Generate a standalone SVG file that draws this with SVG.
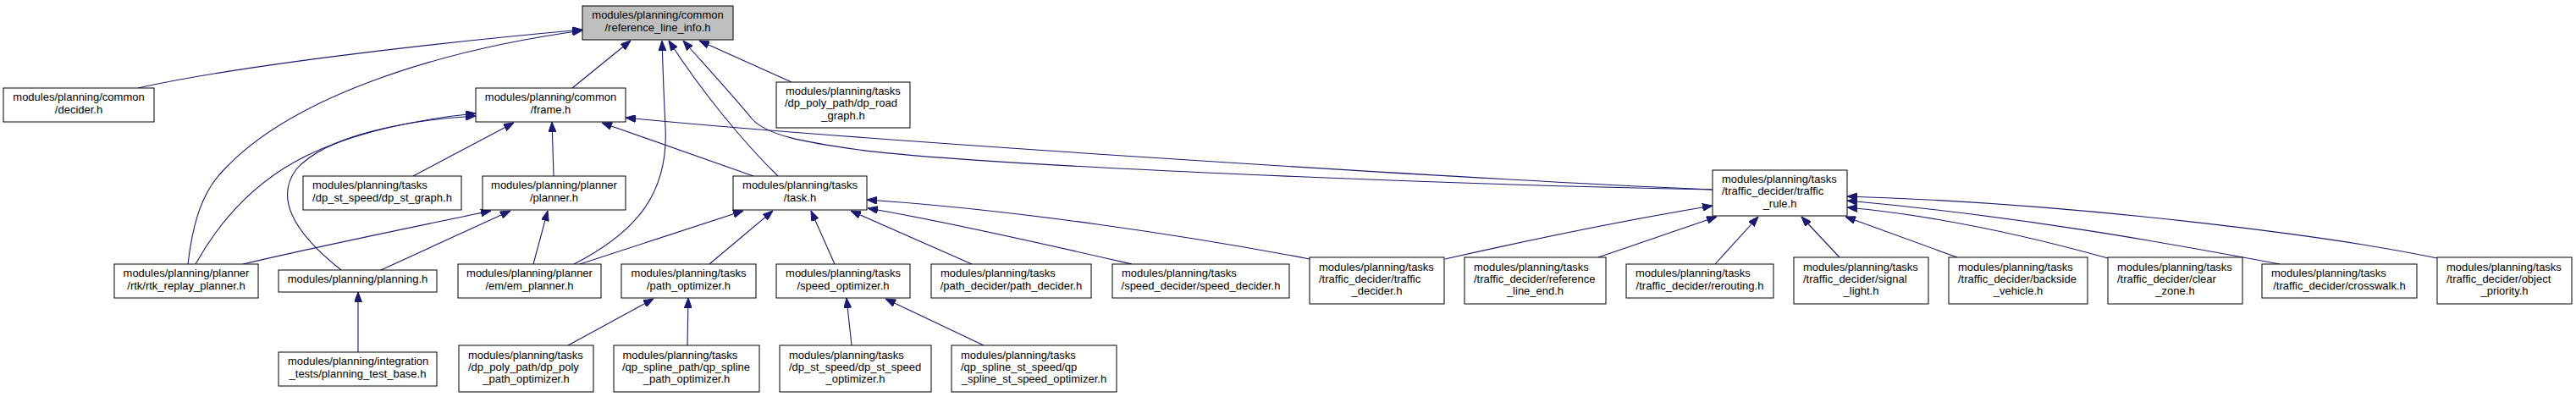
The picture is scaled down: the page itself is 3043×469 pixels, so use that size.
<svg xmlns="http://www.w3.org/2000/svg" width="3043" height="469" viewBox="0 0 3043 469">
<style>
.n rect{fill:#fff;stroke:#000;stroke-width:1}
.n text{font-family:"Liberation Sans",Arial,sans-serif;font-size:13px;fill:#000}
.m{text-anchor:middle}
.e path{fill:none;stroke:#191970;stroke-width:1.1;marker-end:url(#arr)}
</style>
<defs>
<marker id="arr" viewBox="0 0 12 9" refX="12" refY="4.5" markerWidth="12" markerHeight="9" markerUnits="userSpaceOnUse" orient="auto">
<path d="M0,0 L12,4.5 L0,9 z" fill="#191970" stroke="#191970" stroke-width="1"/>
</marker>
</defs>
<rect width="3043" height="469" fill="#fff"/>
<g class="e" id="edges">
<path d="M163,104 C280,78 500,52 688,35"/>
<path d="M222,312 C228,260 240,225 265,200 C340,120 500,62 688,36"/>
<path d="M231,312 C260,260 300,215 360,185 C420,155 500,140 562,134"/>
<path d="M403,319 C360,285 320,240 350,200 C385,160 480,142 562,137"/>
<path d="M488,208 L607,145"/>
<path d="M654,208 L652,144"/>
<path d="M890,208 L711,145"/>
<path d="M2023,224 C1700,210 1000,165 739,139"/>
<path d="M2023,224 C1700,218 1150,195 1015,177 C950,168 905,160 888,140 C870,118 840,85 807,48"/>
<path d="M676,104 L745,48"/>
<path d="M678,312 C750,275 790,230 786,150 C784,110 783,80 782,48"/>
<path d="M919,208 C880,170 830,110 790,48"/>
<path d="M935,97 L826,48"/>
<path d="M287,312 C380,290 480,270 580,249"/>
<path d="M450,319 L603,249"/>
<path d="M630,312 L647,249"/>
<path d="M423,416 L423,345"/>
<path d="M685,312 L878,249"/>
<path d="M838,312 L913,249"/>
<path d="M986,312 L958,249"/>
<path d="M1148,312 L1005,249"/>
<path d="M1337,312 C1250,292 1120,262 1025,246"/>
<path d="M1547,306 C1400,278 1200,248 1024,236"/>
<path d="M671,408 L772,353"/>
<path d="M812,408 L813,352"/>
<path d="M1006,408 L1000,352"/>
<path d="M1162,408 L1046,353"/>
<path d="M1707,306 C1800,285 1920,260 2023,243"/>
<path d="M1888,304 L2028,256"/>
<path d="M2026,312 L2077,256"/>
<path d="M2173,304 L2128,256"/>
<path d="M2312,304 L2180,256"/>
<path d="M2490,305 C2400,280 2290,255 2182,245"/>
<path d="M2693,312 C2550,285 2380,255 2182,237"/>
<path d="M2879,305 C2750,278 2450,240 2182,232"/>
</g>
<g class="n" id="n_ref"><rect x="688" y="7" width="178" height="40" style="fill:#bfbfbf"/><text class="m" x="777" y="22">modules/planning/common</text><text class="m" x="777" y="36.5">/reference_line_info.h</text></g>
<g class="n" id="n_decider"><rect x="4" y="104" width="178" height="40"/><text class="m" x="93" y="119">modules/planning/common</text><text class="m" x="93" y="133.5">/decider.h</text></g>
<g class="n" id="n_frame"><rect x="562" y="104" width="177" height="40"/><text class="m" x="650.5" y="119">modules/planning/common</text><text class="m" x="650.5" y="133.5">/frame.h</text></g>
<g class="n" id="n_dp_road_graph"><rect x="917" y="97" width="158" height="54"/><text x="928" y="112">modules/planning/tasks</text><text x="927" y="126">/dp_poly_path/dp_road</text><text class="m" x="996" y="141">_graph.h</text></g>
<g class="n" id="n_dp_st_graph"><rect x="358" y="208" width="187" height="40"/><text x="369" y="223">modules/planning/tasks</text><text class="m" x="451.5" y="237.5">/dp_st_speed/dp_st_graph.h</text></g>
<g class="n" id="n_planner"><rect x="570" y="208" width="169" height="40"/><text class="m" x="654.5" y="223">modules/planning/planner</text><text class="m" x="654.5" y="237.5">/planner.h</text></g>
<g class="n" id="n_task"><rect x="866" y="208" width="158" height="40"/><text class="m" x="945" y="223">modules/planning/tasks</text><text class="m" x="945" y="237.5">/task.h</text></g>
<g class="n" id="n_traffic_rule"><rect x="2023" y="201" width="159" height="54"/><text x="2034" y="216">modules/planning/tasks</text><text x="2034" y="230">/traffic_decider/traffic</text><text class="m" x="2102.5" y="245">_rule.h</text></g>
<g class="n" id="n_rtk"><rect x="135" y="312" width="170" height="40"/><text class="m" x="220" y="327">modules/planning/planner</text><text class="m" x="220" y="341.5">/rtk/rtk_replay_planner.h</text></g>
<g class="n" id="n_planning"><rect x="329" y="319" width="187" height="26"/><text class="m" x="422.5" y="334">modules/planning/planning.h</text></g>
<g class="n" id="n_em_planner"><rect x="541" y="312" width="169" height="40"/><text class="m" x="625.5" y="327">modules/planning/planner</text><text class="m" x="625.5" y="341.5">/em/em_planner.h</text></g>
<g class="n" id="n_path_optimizer"><rect x="734" y="312" width="159" height="40"/><text class="m" x="813.5" y="327">modules/planning/tasks</text><text class="m" x="813.5" y="341.5">/path_optimizer.h</text></g>
<g class="n" id="n_speed_optimizer"><rect x="917" y="312" width="158" height="40"/><text class="m" x="996" y="327">modules/planning/tasks</text><text class="m" x="996" y="341.5">/speed_optimizer.h</text></g>
<g class="n" id="n_path_decider"><rect x="1100" y="312" width="189" height="40"/><text x="1111" y="327">modules/planning/tasks</text><text class="m" x="1194.5" y="341.5">/path_decider/path_decider.h</text></g>
<g class="n" id="n_speed_decider"><rect x="1314" y="312" width="209" height="40"/><text x="1325" y="327">modules/planning/tasks</text><text class="m" x="1418.5" y="341.5">/speed_decider/speed_decider.h</text></g>
<g class="n" id="n_traffic_decider"><rect x="1547" y="304" width="159" height="55"/><text x="1558" y="319.5">modules/planning/tasks</text><text x="1558" y="333.5">/traffic_decider/traffic</text><text class="m" x="1626.5" y="348">_decider.h</text></g>
<g class="n" id="n_reference_line_end"><rect x="1730" y="304" width="167" height="55"/><text x="1741" y="319.5">modules/planning/tasks</text><text x="1741" y="333.5">/traffic_decider/reference</text><text class="m" x="1813.5" y="348">_line_end.h</text></g>
<g class="n" id="n_rerouting"><rect x="1921" y="312" width="174" height="40"/><text x="1932" y="327">modules/planning/tasks</text><text class="m" x="2008" y="341.5">/traffic_decider/rerouting.h</text></g>
<g class="n" id="n_signal_light"><rect x="2119" y="304" width="159" height="55"/><text x="2130" y="319.5">modules/planning/tasks</text><text x="2130" y="333.5">/traffic_decider/signal</text><text class="m" x="2198.5" y="348">_light.h</text></g>
<g class="n" id="n_backside_vehicle"><rect x="2302" y="304" width="164" height="55"/><text x="2313" y="319.5">modules/planning/tasks</text><text x="2313" y="333.5">/traffic_decider/backside</text><text class="m" x="2384" y="348">_vehicle.h</text></g>
<g class="n" id="n_clear_zone"><rect x="2490" y="304" width="159" height="55"/><text x="2501" y="319.5">modules/planning/tasks</text><text x="2501" y="333.5">/traffic_decider/clear</text><text class="m" x="2569.5" y="348">_zone.h</text></g>
<g class="n" id="n_crosswalk"><rect x="2672" y="312" width="183" height="40"/><text x="2683" y="327">modules/planning/tasks</text><text class="m" x="2763.5" y="341.5">/traffic_decider/crosswalk.h</text></g>
<g class="n" id="n_object_priority"><rect x="2879" y="304" width="159" height="55"/><text x="2890" y="319.5">modules/planning/tasks</text><text x="2890" y="333.5">/traffic_decider/object</text><text class="m" x="2958.5" y="348">_priority.h</text></g>
<g class="n" id="n_planning_test_base"><rect x="329" y="416" width="187" height="40"/><text x="340" y="431">modules/planning/integration</text><text class="m" x="422.5" y="445.5">_tests/planning_test_base.h</text></g>
<g class="n" id="n_dp_poly_path_optimizer"><rect x="542" y="408" width="159" height="55"/><text x="553" y="423.5">modules/planning/tasks</text><text x="553" y="437.5">/dp_poly_path/dp_poly</text><text class="m" x="621.5" y="452">_path_optimizer.h</text></g>
<g class="n" id="n_qp_spline_path_optimizer"><rect x="725" y="408" width="172" height="55"/><text x="735.5" y="423.5">modules/planning/tasks</text><text x="735" y="437.5">/qp_spline_path/qp_spline</text><text class="m" x="811" y="452">_path_optimizer.h</text></g>
<g class="n" id="n_dp_st_speed_optimizer"><rect x="921" y="408" width="179" height="55"/><text x="932" y="423.5">modules/planning/tasks</text><text x="932" y="437.5">/dp_st_speed/dp_st_speed</text><text class="m" x="1010.5" y="452">_optimizer.h</text></g>
<g class="n" id="n_qp_spline_st_speed_optimizer"><rect x="1124" y="408" width="195" height="55"/><text x="1135" y="423.5">modules/planning/tasks</text><text x="1135" y="437.5">/qp_spline_st_speed/qp</text><text class="m" x="1221.5" y="452">_spline_st_speed_optimizer.h</text></g>
</svg>
